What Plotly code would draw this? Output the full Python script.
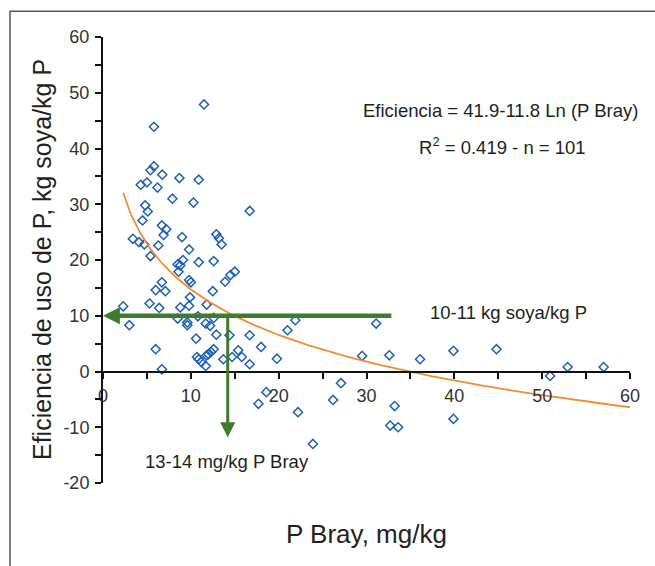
import numpy as np
import plotly.graph_objects as go

# Data
p_bray = [11.5, 5.8, 5.8, 5.4, 4.3, 5.0, 6.75, 6.2, 8.7, 10.9, 7.9, 10.3, 16.7, 4.8, 5.1, 4.5,
          6.7, 7.2, 6.9, 9.0, 12.9, 13.2, 13.5, 3.4, 4.1, 4.7, 6.3, 9.8, 5.4, 10.9, 12.6, 9.1,
          8.5, 8.8, 8.6, 15.0, 14.5, 13.9, 9.8, 10.0, 6.7, 6.0, 7.1, 12.5, 9.9, 2.3, 5.3, 6.4,
          8.8, 9.8, 11.8, 3.0, 8.5, 10.8, 12.6, 11.7, 12.2, 9.6, 9.6, 12.9, 14.4, 16.7, 10.6,
          18.0, 6.0, 15.4, 15.8, 14.7, 13.7, 12.6, 12.3, 12.0, 11.8, 10.7, 10.9, 11.2, 11.7,
          16.7, 6.7, 19.8, 21.0, 21.9, 31.1, 29.5, 32.6, 36.1, 27.1, 26.2, 18.6, 17.7, 22.2,
          23.9, 33.2, 32.7, 33.6, 39.9, 44.8, 52.9, 57.0, 50.9, 39.9]
eficiencia = [47.9, 43.9, 36.8, 36.1, 33.5, 33.9, 35.3, 33.0, 34.7, 34.4, 31.0, 30.3, 28.8, 29.8,
              28.7, 27.1, 26.2, 25.5, 24.5, 24.1, 24.6, 23.9, 22.8, 23.8, 23.2, 22.8, 22.6, 21.9,
              20.7, 19.6, 19.8, 20.0, 19.2, 19.0, 17.9, 17.9, 17.3, 16.1, 16.4, 16.0, 16.0, 14.6,
              14.4, 14.4, 13.3, 11.7, 12.2, 11.4, 11.5, 11.8, 12.0, 8.3, 9.5, 9.9, 9.6, 8.6, 8.2,
              8.8, 8.3, 6.6, 6.5, 6.5, 5.9, 4.4, 4.0, 3.8, 2.6, 2.6, 2.2, 4.0, 3.5, 3.1, 2.9, 2.6,
              2.2, 1.7, 1.0, 1.3, 0.4, 2.3, 7.4, 9.2, 8.6, 2.8, 2.9, 2.2, -2.1, -5.1, -3.7, -5.8,
              -7.3, -13.0, -6.2, -9.7, -10.0, 3.7, 4.0, 0.8, 0.8, -0.8, -8.5]

# Fitted model stated on the chart: Eficiencia = 41.9 - 11.8 Ln(P Bray)
fit_a = 41.9
fit_b = 11.8
fit_x_start = 2.3
fit_x_end = 60

# Reading guides
guide_y = 10
guide_x = 14.2
guide_h_start = 33.0
guide_v_end = -11.8

x_ticks = [0, 10, 20, 30, 40, 50, 60]
x_tick_labels = ["0", "10", "20", "30", "40", "50", "60"]
y_ticks = [-20, -10, 0, 10, 20, 30, 40, 50, 60]
y_tick_labels = ["-20", "-10", "0", "10", "20", "30", "40", "50", "60"]

FONT = "Liberation Sans, Arial, sans-serif"
TXT = "#231f20"
BLUE = "#1f5fb8"
ORANGE = "#f28c32"
GREEN = "#3e7b2e"

fit_x = np.linspace(fit_x_start, fit_x_end, 300)
fit_y = fit_a - fit_b * np.log(fit_x)

fig = go.Figure()
fig.add_trace(go.Scatter(
    x=p_bray, y=eficiencia, mode="markers",
    marker=dict(symbol="diamond-open", size=7, color=BLUE, line=dict(width=1.5, color=BLUE)),
    showlegend=False, hoverinfo="skip"))
fig.add_trace(go.Scatter(
    x=fit_x, y=fit_y, mode="lines",
    line=dict(color=ORANGE, width=1.8), showlegend=False, hoverinfo="skip"))

y_min, y_max = y_ticks[0], y_ticks[-1]
x_axis_pos = (0 - y_min) / (y_max - y_min)

fig.update_layout(
    width=655, height=566,
    margin=dict(l=103, r=25, t=37, b=83),
    paper_bgcolor="white", plot_bgcolor="white",
    font=dict(family=FONT, color=TXT),
    xaxis=dict(
        range=[x_ticks[0], x_ticks[-1]], tickvals=x_ticks, ticktext=x_tick_labels,
        showgrid=False, zeroline=False, showline=True, linecolor="#111", linewidth=2,
        ticks="outside", ticklen=6, tickwidth=1.5, tickcolor="#111",
        minor=dict(dtick=5, ticks="outside", ticklen=6, tickwidth=1.5, tickcolor="#111", showgrid=False),
        anchor="free", position=x_axis_pos,
        tickfont=dict(size=18, color="#333"), ticklabelstandoff=2,
    ),
    yaxis=dict(
        range=[y_min, y_max], tickvals=y_ticks, ticktext=y_tick_labels,
        showgrid=False, zeroline=False, showline=True, linecolor="#111", linewidth=2,
        ticks="outside", ticklen=6, tickwidth=1.5, tickcolor="#111",
        minor=dict(dtick=5, ticks="outside", ticklen=6, tickwidth=1.5, tickcolor="#111", showgrid=False),
        tickfont=dict(size=18, color="#333"), ticklabelstandoff=2,
    ),
)

fig.add_annotation(
    text="Eficiencia de uso de P, kg soya/kg P", xref="paper", yref="paper", x=-0.1157, y=0.5,
    xanchor="center", yanchor="middle", textangle=-90, showarrow=False,
    font=dict(size=25, color=TXT))
fig.add_annotation(
    text="P Bray, mg/kg", xref="paper", yref="paper", x=0.5, y=-0.115,
    xanchor="center", yanchor="middle", showarrow=False,
    font=dict(size=26, color=TXT))

# frame
fig.add_shape(type="rect", xref="paper", yref="paper", x0=-0.1765, y0=-0.5, x1=1.5, y1=1.058,
              line=dict(color="#555", width=1.5), layer="below")

# guide arrows
fig.add_annotation(x=0, y=guide_y, ax=guide_h_start, ay=guide_y, xref="x", yref="y",
                   axref="x", ayref="y", text="", showarrow=True,
                   arrowhead=2, arrowsize=0.75, arrowwidth=4.5, arrowcolor=GREEN)
fig.add_annotation(x=guide_x, y=guide_v_end, ax=guide_x, ay=guide_y, xref="x", yref="y",
                   axref="x", ayref="y", text="", showarrow=True,
                   arrowhead=2, arrowsize=1.0, arrowwidth=3, arrowcolor=GREEN)

fig.add_annotation(text="Eficiencia = 41.9-11.8 Ln (P Bray)", x=45.3, y=46.8, xref="x", yref="y",
                   showarrow=False, font=dict(size=18.5, color=TXT))
fig.add_annotation(text="R<sup>2</sup> = 0.419 - n = 101", x=45.5, y=40.4, xref="x", yref="y",
                   showarrow=False, font=dict(size=18.5, color=TXT))
fig.add_annotation(text="10-11 kg soya/kg P", x=46.2, y=10.6, xref="x", yref="y",
                   showarrow=False, font=dict(size=18.5, color=TXT))
fig.add_annotation(text="13-14 mg/kg P Bray", x=14.1, y=-16.2, xref="x", yref="y",
                   showarrow=False, font=dict(size=18.5, color=TXT))

fig.write_html("out.html", post_script="document.body.style.margin='0';",
               config={"displayModeBar": False})
